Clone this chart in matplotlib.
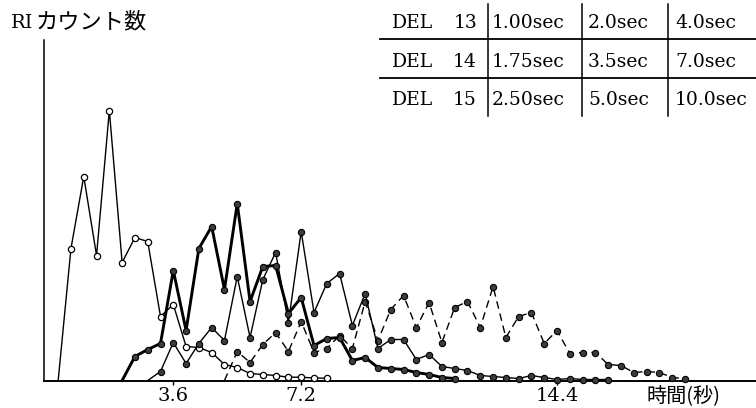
import matplotlib
matplotlib.use("Agg")
import matplotlib.pyplot as plt
from matplotlib.lines import Line2D

W, H = 756, 408

# sampling grid of the counter (sec)
time_s = [0.36, 0.72, 1.08, 1.44, 1.80, 2.16, 2.52, 2.88, 3.24, 3.60,
          3.96, 4.32, 4.68, 5.04, 5.40, 5.76, 6.12, 6.48, 6.84, 7.20,
          7.56, 7.92, 8.28, 8.64, 9.00, 9.36, 9.72, 10.08, 10.44, 10.80,
          11.16, 11.52, 11.88, 12.24, 12.60, 12.96, 13.32, 13.68, 14.04, 14.40,
          14.76, 15.12, 15.48, 15.84, 16.20, 16.56, 16.92, 17.28, 17.64, 18.00]

# RI counts (arbitrary units), each series starts at the given grid index
open_start = 0
open_counts = [0, 132, 204, 125, 270, 118, 143, 139, 64, 76, 34, 33, 28, 16,
               13, 7, 6, 5, 3.3, 3.3, 2.5, 2.3]
bold_start = 5
bold_counts = [0, 24, 31, 37, 110, 50, 132, 154, 91, 177, 79, 114, 115, 67,
               83, 35, 42, 43, 20, 23, 13, 12, 11, 8, 6, 3, 2]
thin_start = 7
thin_counts = [0, 9, 38, 17, 37, 53, 40, 104, 43, 101, 128, 58, 149, 68, 97,
               107, 55, 87, 32, 41, 41, 21, 26, 14, 12, 10, 5, 4, 3, 2, 5, 3,
               1, 2, 1, 1, 1]
dash_start = 13
dash_counts = [0, 29, 18, 36, 48, 29, 59, 28, 32, 45, 32, 79, 40, 71, 85, 53,
               78, 38, 73, 79, 53, 94, 43, 64, 68, 37, 50, 27, 28, 28, 16, 15,
               8, 9, 8, 3, 2]

x_ticks = [3.6, 7.2, 14.4]
x_tick_labels = ["3.6", "7.2", "14.4"]

# DEL table
del_rows = ["13", "14", "15"]
del_times = [["1.00sec", "2.0sec", "4.0sec"],
             ["1.75sec", "3.5sec", "7.0sec"],
             ["2.50sec", "5.0sec", "10.0sec"]]

serif = "DejaVu Serif"
jp = ["DejaVu Serif", "Noto Sans CJK JP"]


def fx(px):
    return px / W


def fy(py):
    return 1 - py / H


fig = plt.figure(figsize=(W / 100, H / 100), dpi=100)
ax = fig.add_axes([fx(43.5), fy(380.5), fx(756 - 43.5), (380.5 - 40) / H])


def series(start, counts, **kw):
    t = time_s[start:start + len(counts)]
    ax.plot(t, counts, color="black", marker="o", markevery=slice(1, None),
            clip_on=False, **kw)


series(open_start, open_counts, lw=1.0, ms=4.5, mfc="white", mec="black", mew=0.9, zorder=3)
series(dash_start, dash_counts, lw=1.0, ls=(0, (5.5, 3.5)), ms=4.5, mfc="#3c3c3c",
       mec="black", mew=0.8, zorder=4)
series(thin_start, thin_counts, lw=1.0, ms=4.5, mfc="#3c3c3c", mec="black", mew=0.8, zorder=5)
series(bold_start, bold_counts, lw=2.1, ms=4.5, mfc="#3c3c3c", mec="black", mew=0.8, zorder=6)

ax.set_xlim(-0.053, 20.0)
ax.set_ylim(0, 340.5)
for side in ["top", "right"]:
    ax.spines[side].set_visible(False)
ax.spines["left"].set_linewidth(1.1)
ax.spines["bottom"].set_linewidth(1.4)
ax.set_yticks([])
ax.set_xticks(x_ticks)
ax.set_xticklabels(x_tick_labels, fontfamily=serif, fontsize=14)
ax.tick_params(axis="x", direction="out", length=3, width=1, pad=2)

# axis titles
fig.text(fx(11), fy(28.5), "RI", fontfamily=serif, fontsize=14, va="baseline")
fig.text(fx(36), fy(28.5), "カウント数", fontfamily=jp, fontsize=16, va="baseline")
fig.text(fx(647), fy(402), "時間(秒)", fontfamily=["Noto Sans CJK JP"], fontsize=14.5,
         va="baseline")

# table of delay settings
col_x = [491.7, 588, 675]
row_base = [28.3, 66.7, 105]
for r, name in enumerate(del_rows):
    fig.text(fx(391.5), fy(row_base[r]), "DEL", fontfamily=serif, fontsize=13.5, va="baseline")
    fig.text(fx(477), fy(row_base[r]), name, fontfamily=serif, fontsize=13.5,
             va="baseline", ha="right")
    for c, val in enumerate(del_times[r]):
        fig.text(fx(col_x[c]), fy(row_base[r]), val, fontfamily=serif, fontsize=13.5,
                 va="baseline")

for yy in [39.3, 78.3]:
    fig.add_artist(Line2D([fx(380), fx(756)], [fy(yy), fy(yy)], color="black", lw=1.3))
for xx in [488.3, 581.7, 668.3]:
    fig.add_artist(Line2D([fx(xx), fx(xx)], [fy(4), fy(116)], color="black", lw=1.1))

fig.savefig("out.png", dpi=100)
